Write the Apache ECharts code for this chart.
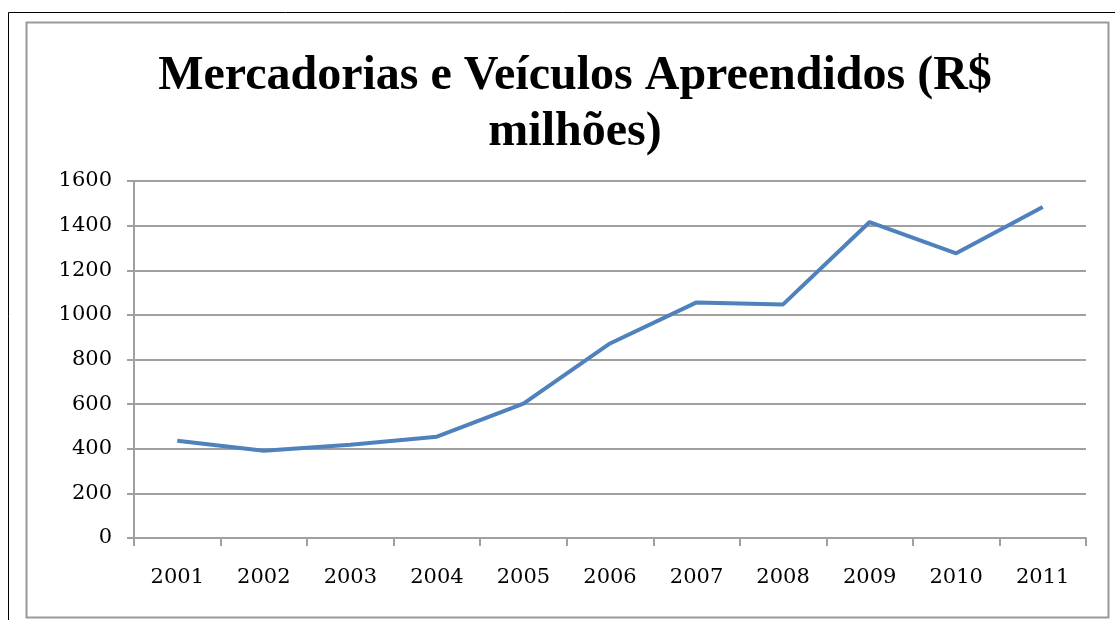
<!DOCTYPE html>
<html>
<head>
<meta charset="utf-8">
<script src="https://cdn.jsdelivr.net/npm/echarts@6/dist/echarts.min.js"></script>
<style>
  html, body { margin: 0; padding: 0; background: #fff; }
  #chart { width: 1115px; height: 620px; }
</style>
</head>
<body>
<div id="chart"></div>
<script>
// dados
const anos = ['2001', '2002', '2003', '2004', '2005', '2006', '2007', '2008', '2009', '2010', '2011'];
const valores = [436, 391, 418, 454, 602, 872, 1056, 1047, 1416, 1276, 1483];
const yTicks = [0, 200, 400, 600, 800, 1000, 1200, 1400, 1600];

const chart = echarts.init(document.getElementById('chart'));
const serif = '"DejaVu Serif", serif';
const grey = '#a0a0a0';

const option = {
  animation: false,
  backgroundColor: '#fff',
  title: {
    text: 'Mercadorias e Veículos Apreendidos (R$\nmilhões)',
    left: 570,
    top: 44,
    textAlign: 'center',
    textStyle: {
      fontFamily: '"Liberation Serif", serif',
      fontWeight: 'bold',
      fontSize: 48,
      lineHeight: 56,
      color: '#000'
    }
  },
  graphic: [
    // borda externa preta
    { type: 'rect', shape: { x: 8.5, y: 12.5, width: 1120, height: 620 },
      style: { fill: 'none', stroke: '#000', lineWidth: 1 }, silent: true },
    // borda interna cinza
    { type: 'rect', shape: { x: 26.5, y: 22.5, width: 1082, height: 595 },
      style: { fill: 'none', stroke: '#999', lineWidth: 2 }, silent: true }
  ],
  grid: { left: 134, top: 181, right: 29, bottom: 82 },
  xAxis: {
    type: 'category',
    data: anos,
    boundaryGap: true,
    axisLine: { lineStyle: { color: grey, width: 2 } },
    axisTick: { show: true, interval: 0, length: 8, lineStyle: { color: grey, width: 2 } },
    axisLabel: { margin: 29, fontFamily: serif, fontSize: 21, color: '#000' }
  },
  yAxis: {
    type: 'value',
    min: yTicks[0],
    max: yTicks[yTicks.length - 1],
    interval: 200,
    axisLine: { show: true, lineStyle: { color: grey, width: 2 } },
    axisTick: { show: true, length: 7, lineStyle: { color: grey, width: 2 } },
    axisLabel: { margin: 22, fontFamily: serif, fontSize: 21, color: '#000', formatter: v => String(v) },
    splitLine: { lineStyle: { color: grey, width: 2 } }
  },
  series: [
    {
      type: 'line',
      data: valores,
      symbol: 'none',
      lineStyle: { color: '#4f81bd', width: 4 }
    }
  ]
};

chart.setOption(option);
</script>
</body>
</html>
